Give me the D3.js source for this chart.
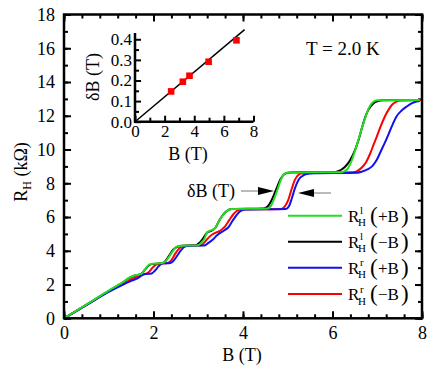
<!DOCTYPE html>
<html lang="en">
<head>
<meta charset="utf-8">
<script src="https://cdnjs.cloudflare.com/ajax/libs/d3/7.8.5/d3.min.js"></script>
<style>
  body { margin: 0; padding: 0; background: #fff; }
  svg text { font-family: "Liberation Serif", "Times New Roman", Times, "DejaVu Serif", serif; fill: #000; }
  .axis path { display: none; }
  .axis line { stroke: #000; stroke-width: 2px; }
  .axis text { font-size: 18px; }
  .inset .axis text { font-size: 17px; }
  .trace { fill: none; stroke-width: 2px; stroke-linejoin: round; }
</style>
</head>
<body>
<div id="chart"></div>
<script>
// Hall resistance traces, [B (T), R_H (kOhm)]
var greenLeftPlus = [[0,0],[0.5,0.81],[1.0,1.64],[1.33,2.17],[1.45,2.4],[1.55,2.52],[1.62,2.57],[1.72,2.62],[1.8,2.85],[1.86,3.08],[1.94,3.22],[2.2,3.27],[2.28,3.4],[2.36,3.7],[2.45,4.05],[2.53,4.26],[2.62,4.3],[2.98,4.32],[3.06,4.45],[3.14,4.72],[3.2,5.1],[3.3,5.22],[3.38,5.35],[3.46,5.75],[3.55,6.1],[3.64,6.36],[3.74,6.47],[4.55,6.5],[4.62,6.65],[4.7,7.1],[4.78,7.7],[4.86,8.3],[4.94,8.58],[5.02,8.64],[6.2,8.66],[6.27,8.72],[6.35,8.9],[6.43,9.35],[6.5,9.9],[6.58,10.58],[6.66,11.3],[6.74,11.95],[6.82,12.5],[6.9,12.8],[7.0,12.92],[7.95,12.94]];
var blackLeftMinus = [[0,0],[0.5,0.8],[1.0,1.62],[1.33,2.15],[1.45,2.38],[1.55,2.5],[1.64,2.57],[1.73,2.64],[1.81,2.88],[1.88,3.1],[1.96,3.21],[2.18,3.26],[2.27,3.4],[2.35,3.72],[2.44,4.06],[2.54,4.25],[2.64,4.3],[2.94,4.32],[3.03,4.48],[3.12,4.78],[3.2,5.08],[3.3,5.2],[3.38,5.35],[3.46,5.75],[3.55,6.12],[3.64,6.36],[3.75,6.47],[4.45,6.5],[4.55,6.62],[4.65,7.05],[4.75,7.7],[4.84,8.25],[4.93,8.55],[5.05,8.64],[6.0,8.66],[6.13,8.72],[6.27,8.95],[6.39,9.35],[6.5,9.95],[6.58,10.55],[6.66,11.3],[6.73,11.9],[6.8,12.35],[6.9,12.7],[7.0,12.85],[7.14,12.92],[7.95,12.94]];
var blueRightPlus = [[0,0],[0.5,0.78],[1.0,1.56],[1.4,2.1],[1.5,2.22],[1.58,2.3],[1.66,2.4],[1.74,2.55],[1.82,2.62],[1.96,2.66],[2.04,2.85],[2.12,3.1],[2.2,3.24],[2.38,3.27],[2.46,3.45],[2.54,3.75],[2.62,4.05],[2.7,4.25],[2.8,4.3],[3.14,4.32],[3.22,4.45],[3.32,4.65],[3.42,4.92],[3.5,5.08],[3.58,5.2],[3.67,5.38],[3.76,5.75],[3.86,6.13],[3.94,6.35],[4.04,6.45],[4.96,6.48],[5.03,6.65],[5.09,7.1],[5.16,7.7],[5.24,8.2],[5.32,8.42],[5.42,8.55],[5.6,8.6],[6.55,8.63],[6.65,8.68],[6.78,8.82],[6.9,9.05],[6.99,9.39],[7.08,9.9],[7.16,10.35],[7.23,10.77],[7.33,11.4],[7.43,11.96],[7.54,12.3],[7.66,12.55],[7.78,12.75],[7.9,12.86],[7.95,12.88]];
var redRightMinus = [[0,0],[0.5,0.79],[1.0,1.59],[1.38,2.12],[1.5,2.3],[1.6,2.42],[1.7,2.56],[1.8,2.62],[1.9,2.75],[1.98,3.0],[2.06,3.18],[2.14,3.25],[2.32,3.28],[2.4,3.45],[2.48,3.8],[2.56,4.1],[2.64,4.26],[2.72,4.3],[3.06,4.32],[3.14,4.5],[3.22,4.75],[3.32,4.98],[3.42,5.1],[3.52,5.25],[3.6,5.45],[3.7,5.85],[3.78,6.15],[3.86,6.36],[3.95,6.45],[4.85,6.48],[4.93,6.62],[5.01,7.0],[5.08,7.6],[5.16,8.2],[5.24,8.5],[5.32,8.6],[5.5,8.63],[6.45,8.65],[6.55,8.72],[6.65,8.92],[6.75,9.25],[6.84,9.75],[6.92,10.3],[6.99,10.77],[7.08,11.4],[7.17,11.96],[7.25,12.35],[7.33,12.65],[7.42,12.82],[7.52,12.9],[8.0,12.94]];

// inset: deltaB vs B
var insetB = [2.44, 3.23, 3.68, 4.97, 6.85];
var insetDeltaB = [0.147, 0.194, 0.223, 0.291, 0.395];
var fitB = [0, 7.4];
var fitDeltaB = [0, 0.447];

// tick values
var xTicks = [0, 2, 4, 6, 8];
var yTicks = [0, 2, 4, 6, 8, 10, 12, 14, 16, 18];
var insetXTicks = [0, 2, 4, 6, 8];
var insetYTicks = [0.0, 0.1, 0.2, 0.3, 0.4];

var series = [
    { name: "l", sign: "\u2212", color: "#000000", data: blackLeftMinus },
    { name: "r", sign: "\u2212", color: "#ff0000", data: redRightMinus },
    { name: "r", sign: "+", color: "#1010f0", data: blueRightPlus },
    { name: "l", sign: "+", color: "#22dd22", data: greenLeftPlus }
];
// legend order as in the figure (top to bottom)
var legendOrder = [3, 0, 2, 1];

var width = 436, height = 375;
var serif = "'Liberation Serif', 'Times New Roman', Times, 'DejaVu Serif', serif";

var svg = d3.select("#chart").append("svg")
    .attr("width", width)
    .attr("height", height)
    .attr("font-family", serif)
    .style("display", "block");

var x = d3.scaleLinear().domain([0, 8]).range([64, 422]);
var y = d3.scaleLinear().domain([0, 18]).range([318.3, 14.5]);

var xMinor = d3.range(0, 21).map(function (i) { return i * 0.4; });
var yMinor = d3.range(0, 19);

// ticks, all pointing inward
function addAxis(parent, axis, tx, ty) {
    var g = parent.append("g").attr("class", "axis")
        .attr("transform", "translate(" + tx + "," + ty + ")")
        .call(axis);
    g.attr("font-family", serif).attr("font-size", null);
    return g;
}

addAxis(svg, d3.axisBottom(x).tickValues(xMinor).tickSize(-4).tickFormat(""), 0, y(0));
addAxis(svg, d3.axisBottom(x).tickValues(xTicks).tickSize(-7).tickPadding(8).tickFormat(d3.format("d")), 0, y(0));
addAxis(svg, d3.axisTop(x).tickValues(xMinor).tickSize(-4).tickFormat(""), 0, y(18));
addAxis(svg, d3.axisTop(x).tickValues(xTicks).tickSize(-7).tickFormat(""), 0, y(18));
addAxis(svg, d3.axisLeft(y).tickValues(yMinor).tickSize(-4).tickFormat(""), x(0), 0);
addAxis(svg, d3.axisLeft(y).tickValues(yTicks).tickSize(-7).tickPadding(9).tickFormat(d3.format("d")), x(0), 0);
addAxis(svg, d3.axisRight(y).tickValues(yMinor).tickSize(-4).tickFormat(""), x(8), 0);
addAxis(svg, d3.axisRight(y).tickValues(yTicks).tickSize(-7).tickFormat(""), x(8), 0);

// traces
var line = d3.line()
    .x(function (d) { return x(d[0]); })
    .y(function (d) { return y(d[1]); })
    .curve(d3.curveMonotoneX);

svg.append("g").selectAll("path.trace")
    .data(series)
    .enter().append("path")
    .attr("class", "trace")
    .attr("stroke", function (d) { return d.color; })
    .attr("d", function (d) { return line(d.data); });

// frame
svg.append("rect")
    .attr("x", x(0)).attr("y", y(18))
    .attr("width", x(8) - x(0)).attr("height", y(0) - y(18))
    .attr("fill", "none").attr("stroke", "#000").attr("stroke-width", 2.5);

// axis titles
svg.append("text")
    .attr("x", 242).attr("y", 361)
    .attr("text-anchor", "middle").attr("font-size", 18)
    .text("B (T)");

var yTitle = svg.append("text")
    .attr("transform", "translate(27,172) rotate(-90)")
    .attr("text-anchor", "middle").attr("font-size", 18);
yTitle.append("tspan").text("R");
yTitle.append("tspan").attr("font-size", 12).attr("dy", 4).text("H");
yTitle.append("tspan").attr("dy", -4).text(" (k\u03a9)");

svg.append("text")
    .attr("x", 306).attr("y", 55)
    .attr("font-size", 19)
    .text("T = 2.0 K");

// deltaB annotation with arrows
svg.append("text")
    .attr("x", 187).attr("y", 197)
    .attr("font-size", 18)
    .text("\u03b4B (T)");
svg.append("line")
    .attr("x1", 241).attr("x2", 259).attr("y1", 191).attr("y2", 191)
    .attr("stroke", "#777").attr("stroke-width", 1);
svg.append("path")
    .attr("d", "M258,187 L274,191 L258,195 Z").attr("fill", "#000");
svg.append("line")
    .attr("x1", 313).attr("x2", 331).attr("y1", 193).attr("y2", 193)
    .attr("stroke", "#777").attr("stroke-width", 1);
svg.append("path")
    .attr("d", "M314,189 L298,193 L314,197 Z").attr("fill", "#000");

// legend
var legendY = [215.7, 241.7, 267.7, 294];
legendOrder.forEach(function (si, i) {
    var s = series[si], ly = legendY[i];
    svg.append("line")
        .attr("x1", 288).attr("x2", 342).attr("y1", ly).attr("y2", ly)
        .attr("stroke", s.color).attr("stroke-width", 2);
    var g = svg.append("g");
    g.append("text").attr("x", 348).attr("y", ly + 6).attr("font-size", 17).text("R");
    g.append("text").attr("x", 360).attr("y", ly - 1.5).attr("font-size", 11).text(s.name);
    g.append("text").attr("x", 358).attr("y", ly + 10.5).attr("font-size", 11).text("H");
    g.append("text").attr("x", 370).attr("y", ly + 7).attr("font-size", 23).text("(");
    g.append("text").attr("x", 378).attr("y", ly + 6).attr("font-size", 17).text(s.sign + "B");
    g.append("text").attr("x", 401).attr("y", ly + 7).attr("font-size", 23).text(")");
});

// inset
var inset = svg.append("g").attr("class", "inset");
var ix = d3.scaleLinear().domain([0, 8]).range([135, 253.5]);
var iy = d3.scaleLinear().domain([0, 0.43]).range([121.7, 33.1]);

addAxis(inset, d3.axisBottom(ix).tickValues([1, 3, 5, 7]).tickSize(-4).tickFormat(""), 0, iy(0));
addAxis(inset, d3.axisBottom(ix).tickValues(insetXTicks).tickSize(-6).tickPadding(3).tickFormat(d3.format("d")), 0, iy(0));
addAxis(inset, d3.axisLeft(iy).tickValues([0.05, 0.15, 0.25, 0.35]).tickSize(-4).tickFormat(""), ix(0), 0);
addAxis(inset, d3.axisLeft(iy).tickValues(insetYTicks).tickSize(-6).tickPadding(3).tickFormat(d3.format(".1f")), ix(0), 0);

inset.append("path")
    .attr("d", "M" + ix(0) + "," + iy(0.43) + " L" + ix(0) + "," + iy(0) + " L" + ix(8) + "," + iy(0))
    .attr("fill", "none").attr("stroke", "#000").attr("stroke-width", 2.5);

inset.append("line")
    .attr("x1", ix(fitB[0])).attr("y1", iy(fitDeltaB[0]))
    .attr("x2", ix(fitB[1])).attr("y2", iy(fitDeltaB[1]))
    .attr("stroke", "#000").attr("stroke-width", 1.5);

inset.selectAll("rect.pt")
    .data(insetB)
    .enter().append("rect")
    .attr("class", "pt")
    .attr("x", function (d) { return ix(d) - 3.3; })
    .attr("y", function (d, i) { return iy(insetDeltaB[i]) - 3.3; })
    .attr("width", 6.6).attr("height", 6.6)
    .attr("fill", "#ff0000");

inset.append("text")
    .attr("x", 188).attr("y", 160)
    .attr("text-anchor", "middle").attr("font-size", 18)
    .text("B (T)");
inset.append("text")
    .attr("transform", "translate(99,77) rotate(-90)")
    .attr("text-anchor", "middle").attr("font-size", 18)
    .text("\u03b4B (T)");
</script>
</body>
</html>
